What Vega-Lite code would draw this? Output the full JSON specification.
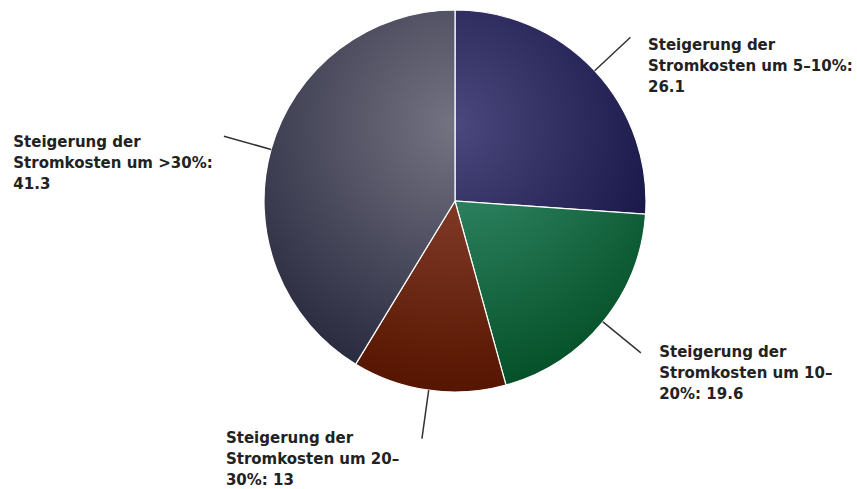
{
  "$schema": "https://vega.github.io/schema/vega-lite/v6.json",
  "width": 804,
  "height": 402,
  "autosize": "none",
  "padding": {"left": 53, "top": 0, "right": 0, "bottom": 87},
  "background": "white",
  "config": {"view": {"stroke": null}},
  "data": {
    "values": [
      {"idx": 1, "category": "Steigerung der Stromkosten um 5–10%", "value": 26.1, "label": "Steigerung der\nStromkosten um 5–10%:\n26.1"},
      {"idx": 2, "category": "Steigerung der Stromkosten um 10–20%", "value": 19.6, "label": "Steigerung der\nStromkosten um 10–\n20%: 19.6"},
      {"idx": 3, "category": "Steigerung der Stromkosten um 20–30%", "value": 13, "label": "Steigerung der\nStromkosten um 20–\n30%: 13"},
      {"idx": 4, "category": "Steigerung der Stromkosten um >30%", "value": 41.3, "label": "Steigerung der\nStromkosten um >30%:\n41.3"}
    ]
  },
  "encoding": {
    "theta": {"field": "value", "type": "quantitative", "stack": true},
    "order": {"field": "idx", "type": "quantitative"},
    "detail": {"field": "idx", "type": "nominal"}
  },
  "layer": [
    {
      "mark": {"type": "arc", "radius": 191, "stroke": "#ffffff", "strokeWidth": 1.2},
      "encoding": {
        "color": {
          "condition": [
            {"test": "datum.idx == 1", "value": {"gradient": "radial", "x1": 0.033, "y1": 0.563, "r1": 0, "x2": 0.033, "y2": 0.563, "r2": 1.307, "stops": [{"offset": 0, "color": "#4a487c"}, {"offset": 1, "color": "#0d0a3c"}]}},
            {"test": "datum.idx == 2", "value": {"gradient": "radial", "x1": 0.0, "y1": -0.382, "r1": 0, "x2": 0.0, "y2": -0.382, "r2": 1.40, "stops": [{"offset": 0, "color": "#3b9272"}, {"offset": 1, "color": "#045028"}]}},
            {"test": "datum.idx == 3", "value": {"gradient": "radial", "x1": 0.626, "y1": -0.398, "r1": 0, "x2": 0.626, "y2": -0.398, "r2": 1.398, "stops": [{"offset": 0, "color": "#904936"}, {"offset": 1, "color": "#561500"}]}}
          ],
          "value": {"gradient": "radial", "x1": 0.770, "y1": 0.325, "r1": 0, "x2": 0.770, "y2": 0.325, "r2": 0.754, "stops": [{"offset": 0, "color": "#737382"}, {"offset": 1, "color": "#28283e"}]}
        }
      }
    },
    {
      "mark": {"type": "arc", "radius": 191, "radius2": 240, "padAngle": 3.14, "fill": "#ffffff", "fillOpacity": 0, "stroke": "#333333", "strokeWidth": 1.5},
      "encoding": {}
    },
    {
      "mark": {
        "type": "text",
        "radius": 240,
        "align": "left",
        "baseline": "alphabetic",
        "font": "DejaVu Sans",
        "fontSize": 15,
        "fontWeight": "bold",
        "lineHeight": 21,
        "lineBreak": "\n",
        "color": "#222222",
        "dx": {"expr": "datum.idx == 1 ? 17.5 : datum.idx == 2 ? 18.3 : datum.idx == 3 ? -196 : -210.6"},
        "dy": {"expr": "datum.idx == 1 ? 12.7 : datum.idx == 2 ? 4.6 : datum.idx == 3 ? 4.6 : 10.8"}
      },
      "encoding": {"text": {"field": "label", "type": "nominal"}}
    }
  ]
}
